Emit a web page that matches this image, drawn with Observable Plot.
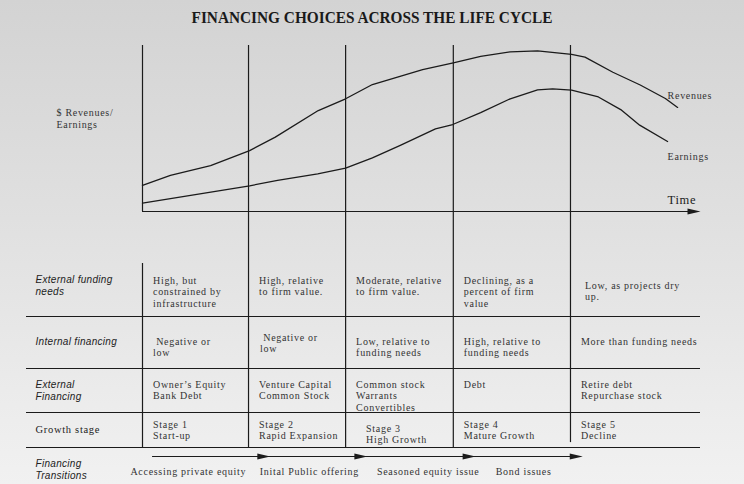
<!DOCTYPE html>
<html>
<head>
<meta charset="utf-8">
<script src="https://cdn.jsdelivr.net/npm/d3@7"></script>
<script src="https://cdn.jsdelivr.net/npm/@observablehq/plot@0.6"></script>
<style>
html, body { margin: 0; padding: 0; }
body { width: 744px; height: 484px; overflow: hidden;
  background: linear-gradient(to bottom, #d3d3d3 0%, #e0e0e0 45%, #f1f1f1 100%); }
#wrap { position: relative; width: 744px; height: 484px; }
#title { position: absolute; left: 0; top: 10px; width: 744px; text-align: center;
  font: bold 16px "Liberation Serif", serif; line-height: 16px; color: #1a1a1a;
  transform: scaleX(0.957); transform-origin: 372px 0; }
#chart, #table { position: absolute; left: 0; }
#chart { top: 0; }
#table { top: 242px; }
g[font-family="Liberation Serif"] text { letter-spacing: 0.7px; }
g[font-family="Liberation Sans"] text { letter-spacing: 0.3px; }
</style>
</head>
<body>
<div id="wrap">
  <div id="title">FINANCING CHOICES ACROSS THE LIFE CYCLE</div>
  <div id="chart"></div>
  <div id="table"></div>
</div>
<script>
// ---------- DATA ----------
const stageStarts = [0, 19.0, 36.4, 55.7, 76.7];           // time at which each stage begins
const timeEnd = 100;

const revenueTime  = [0, 5.0, 12.2, 19.2, 23.8, 31.5, 36.4, 41.2, 45.7, 50.2, 55.7, 60.6, 65.9, 70.8, 76.9, 79.3, 84.3, 89.2, 93.7, 95.9];
const revenueValue = [15.7, 21.7, 27.7, 36.7, 44.8, 60.8, 67.9, 76.5, 80.9, 85.4, 89.6, 93.4, 96.2, 96.8, 94.6, 93.0, 83.9, 76.2, 68.1, 62.7];

const earningsTime  = [0, 19.2, 24.2, 31.4, 36.4, 41.2, 46.2, 52.5, 55.6, 60.6, 65.9, 70.8, 73.5, 76.9, 81.7, 85.7, 89.1, 94.1];
const earningsValue = [5.0, 15.5, 18.7, 22.7, 26.1, 32.3, 39.8, 49.8, 52.4, 59.6, 67.9, 73.3, 73.9, 73.1, 69.0, 61.4, 52.0, 42.2];

const rowLabels = ["External funding\nneeds", "Internal financing", "External\nFinancing", "Growth stage", "Financing\nTransitions"];
const externalFunding = ["High, but\nconstrained by\ninfrastructure", "High, relative\nto firm value.", "Moderate, relative\nto firm value.", "Declining, as a\npercent of firm\nvalue", "Low, as projects dry\nup."];
const internalFinancing = ["\u00a0Negative or\nlow", "\u00a0Negative or\nlow", "Low, relative to\nfunding needs", "High, relative to\nfunding needs", "More than funding needs"];
const externalFinancing = ["Owner\u2019s Equity\nBank Debt", "Venture Capital\nCommon Stock", "Common stock\nWarrants\nConvertibles", "Debt", "Retire debt\nRepurchase stock"];
const growthStages = ["Stage 1\nStart-up", "Stage 2\nRapid Expansion", "Stage 3\nHigh Growth", "Stage 4\nMature Growth", "Stage 5\nDecline"];

const transitions = ["Accessing private equity", "Inital Public offering", "Seasoned equity issue", "Bond issues"];
const transitionTimes = [22.9, 40.3, 59.7, 78.9];
const transitionLabelTimes = [8.2, 29.9, 51.2, 68.3];

// ---------- LAYOUT / STYLE ----------
const ink = "#1b1b1b";
const serif = "Liberation Serif";
const sans = "Liberation Sans";
const xScale = {domain: [0, timeEnd], range: [142, 700], axis: null};
const pxPerTime = (700 - 142) / timeEnd;
const arrowHead = {draw(ctx) { ctx.moveTo(0, 0); ctx.lineTo(-13, -3); ctx.lineTo(-13, 3); ctx.closePath(); }};
const plotStyle = {background: "transparent", overflow: "visible", fontFamily: serif, color: ink};

// ---------- CHART ----------
const revenues = revenueTime.map((t, i) => ({t, v: revenueValue[i]}));
const earnings = earningsTime.map((t, i) => ({t, v: earningsValue[i]}));
const chartBottom = (211 - 242) / 1.66; // value at bottom edge of the chart svg

const chart = Plot.plot({
  width: 744, height: 242, margin: 0,
  x: xScale,
  y: {domain: [0, 100], range: [211, 45], axis: null},
  style: plotStyle,
  marks: [
    Plot.ruleX(stageStarts.slice(1), {y1: 100, y2: chartBottom, stroke: ink, strokeWidth: 1.2}),
    Plot.ruleX([stageStarts[0]], {y1: 0, y2: 100, stroke: ink, strokeWidth: 1.2}),
    Plot.ruleY([0], {x1: 0, x2: timeEnd - 1, stroke: ink, strokeWidth: 1.2}),
    Plot.dot([timeEnd], {x: d => d, y: 0, symbol: arrowHead, fill: ink}),
    Plot.line(revenues, {x: "t", y: "v", stroke: ink, strokeWidth: 1.3}),
    Plot.line(earnings, {x: "t", y: "v", stroke: ink, strokeWidth: 1.3}),
    Plot.text([revenues.at(-1)], {x: "t", y: "v", text: () => "Revenues", textAnchor: "start", dx: -10, dy: -12, fontSize: 10, fontFamily: serif, fill: "#333"}),
    Plot.text([earnings.at(-1)], {x: "t", y: "v", text: () => "Earnings", textAnchor: "start", dx: 0, dy: 15, fontSize: 10, fontFamily: serif, fill: "#333"}),
    Plot.text(["Time"], {x: timeEnd, y: 0, textAnchor: "start", dx: -33, dy: -12, fontSize: 12.5, fontFamily: serif, fill: "#222"}),
    Plot.text(["$ Revenues/\nEarnings"], {x: 0, y: 50, textAnchor: "start", lineAnchor: "middle", dx: -86, dy: -10, lineHeight: 1.2, fontSize: 10, fontFamily: serif, fill: "#333"})
  ]
});
document.getElementById("chart").append(chart);

// ---------- TABLE ----------
// row index -> vertical layout position (row tops; -1 = top edge of the table svg)
const rowPos = d3.scaleLinear().domain([-1, 0, 1, 2, 3, 4, 5]).range([0, 21, 74, 126, 170, 205, 242]);
const rows = [externalFunding, internalFinancing, externalFinancing, growthStages];
const cells = rows.flatMap((texts, r) => texts.map((text, c) => ({row: r, col: c, x: stageStarts[c], text})));
const rowDy = [12, 20, 11, 7];
const nudges = {"0,4": [4, 5], "1,1": [1, -4], "3,2": [10, 4]};
const tableLeft = (26 - 142) / pxPerTime;
const labelLeft = (35 - 142) / pxPerTime;

const cellMarks = cells.map(cell => {
  const [ndx, ndy] = nudges[`${cell.row},${cell.col}`] || [0, 0];
  return Plot.text([cell], {x: "x", y: d => rowPos(d.row), text: "text", textAnchor: "start", lineAnchor: "top",
    dx: 10.5 + ndx, dy: rowDy[cell.row] + ndy, lineHeight: 1.15, fontSize: 10, fontFamily: serif, fill: "#333"});
});

const labelMarks = rowLabels.map((label, r) => Plot.text([label], {
  x: labelLeft, y: rowPos(r), textAnchor: "start", lineAnchor: "top",
  dy: [10.5, 19.5, 10.5, 11.5, 10.5][r], lineHeight: 1.2,
  fontSize: r === 3 ? 10.5 : 10, fontFamily: r === 3 ? serif : sans,
  fontStyle: r === 3 ? "normal" : "italic", fill: "#222"
}));

const table = Plot.plot({
  width: 744, height: 242, margin: 0,
  x: xScale,
  y: {type: "identity"},
  style: plotStyle,
  marks: [
    Plot.ruleX(stageStarts.slice(1, 4), {y1: rowPos(-1), y2: rowPos(4), stroke: ink, strokeWidth: 1.2}),
    Plot.ruleX([stageStarts[4]], {y1: rowPos(-1), y2: rowPos(3.86), stroke: ink, strokeWidth: 1.2}),
    Plot.ruleX([stageStarts[0]], {y1: rowPos(0), y2: rowPos(4), stroke: ink, strokeWidth: 1.2}),
    Plot.ruleY([1, 2, 3, 4].map(rowPos), {x1: tableLeft, x2: timeEnd, stroke: ink, strokeWidth: 1.2}),
    Plot.ruleY([rowPos(4)], {x1: 1.8, x2: transitionTimes.at(-1) - 1, dy: 9, stroke: ink, strokeWidth: 1.1}),
    Plot.dot(transitionTimes, {x: d => d, y: rowPos(4), dy: 9, symbol: arrowHead, fill: ink}),
    Plot.text(transitions, {x: (d, i) => transitionLabelTimes[i], y: rowPos(4), textAnchor: "middle", lineAnchor: "top", dy: 20, fontSize: 10, fontFamily: serif, fill: "#333"}),
    ...labelMarks,
    ...cellMarks
  ]
});
document.getElementById("table").append(table);
</script>
</body>
</html>
